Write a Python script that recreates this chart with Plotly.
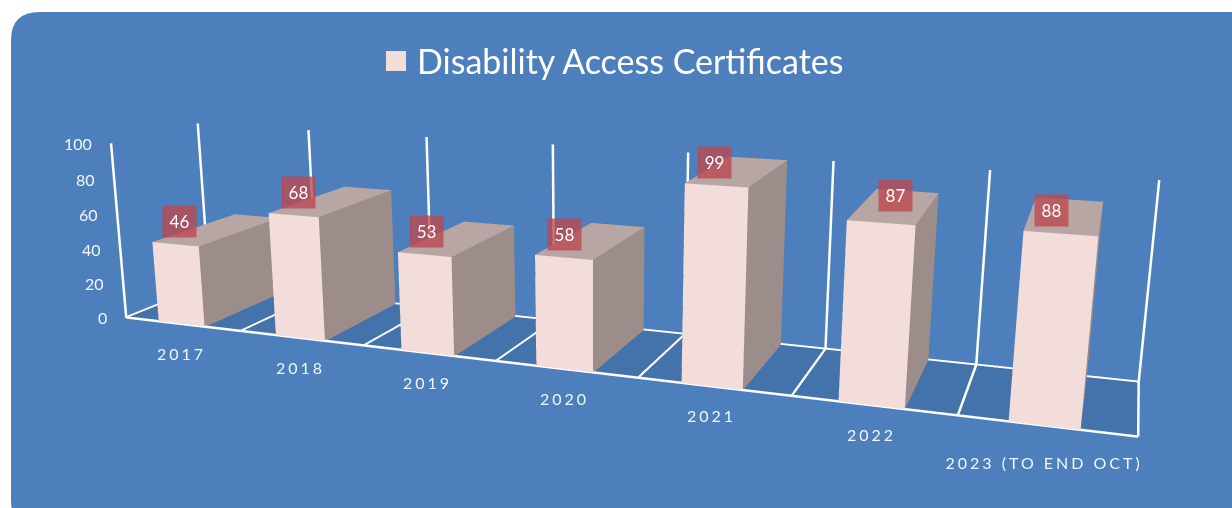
import plotly.graph_objects as go

categories = ["2017", "2018", "2019", "2020", "2021", "2022", "2023 (TO END OCT)"]
values = [46, 68, 53, 58, 99, 87, 88]
z_ticks = [0, 20, 40, 60, 80, 100]
series_name = "Disability Access Certificates"

# The 3-D lens is fixed at 45 degrees, so the canvas is larger than the window and shifted to frame the view.
W, H = 1306, 1175
OFF_X, OFF_Y = 74, 306
BAR_L, BAR_R = 0.29, 0.69
ZMAX = 100
FRONT, TOP, SIDE = "#F3DDDB", "#B7A6A4", "#9C8C8A"
PANEL, FLOOR = "#4D7FBC", "#4472AB"
LABEL_BG = "rgba(190,72,78,0.78)"
TXT = "#F2F5FA"
FONT = "Lato"

def px(x):
    return (x + OFF_X) / W
def py(y):
    return 1 - (y + OFF_Y) / H

def bar_mesh():
    xs, ys, zs, ii, jj, kk, colors = [], [], [], [], [], [], []
    for c, v in enumerate(values):
        n = len(xs)
        x0, x1 = c + BAR_L, c + BAR_R
        for z in (0, v):
            for y in (0, 1):
                for x in (x0, x1):
                    xs.append(x); ys.append(y); zs.append(z)
        quads = [((0, 1, 5, 4), FRONT), ((4, 5, 7, 6), TOP), ((1, 3, 7, 5), SIDE), ((0, 2, 6, 4), SIDE), ((2, 3, 7, 6), SIDE)]
        for (a, b, d, e), col in quads:
            ii += [n + a, n + a]; jj += [n + b, n + d]; kk += [n + d, n + e]
            colors += [col, col]
    return go.Mesh3d(x=xs, y=ys, z=zs, i=ii, j=jj, k=kk, facecolor=colors, flatshading=True,
                     lighting=dict(ambient=1, diffuse=0, specular=0, fresnel=0, roughness=1),
                     hoverinfo="skip", showscale=False, name=series_name)

n_cat = len(categories)
floor = go.Mesh3d(x=[0, n_cat, n_cat, 0], y=[0, 0, 1, 1], z=[0] * 4, i=[0, 0], j=[1, 2], k=[2, 3],
                  color=FLOOR, flatshading=True, hoverinfo="skip",
                  lighting=dict(ambient=1, diffuse=0, specular=0, fresnel=0, roughness=1))

GZ = 0.3
lx, ly, lz = [0, n_cat, None, 0, n_cat, None, 0, 0, None], [0, 0, None, 1, 1, None, 0, 0, None], [GZ, GZ, None, GZ, GZ, None, 0, ZMAX, None]
for c in range(n_cat + 1):
    lx += [c, c, None, c, c, None]
    ly += [0, 1, None, 1, 1, None]
    lz += [GZ, GZ, None, 0, ZMAX, None]
lines = go.Scatter3d(x=lx, y=ly, z=lz, mode="lines", line=dict(color="white", width=5), hoverinfo="skip")

annots = []
for t in z_ticks:
    annots.append(dict(x=0, y=0, z=t, text=str(t), showarrow=False, xanchor="right", xshift=-17,
                       font=dict(family=FONT, size=16, color=TXT)))
for c, name in enumerate(categories):
    annots.append(dict(x=c + 0.49, y=0, z=0, text=name, showarrow=False,
                       yshift=-36 if c == n_cat - 1 else -29,
                       font=dict(family=FONT, size=16, color=TXT)))
label_dx = [4, 5, 2, 1, -2, 15, -9]
label_dy = [23, 23, 23, 23, 23, 27, 23]
for c, v in enumerate(values):
    annots.append(dict(x=c + 0.49, y=0, z=v, text=str(v), showarrow=False, yshift=label_dy[c], xshift=label_dx[c],
                       bgcolor=LABEL_BG, width=31, height=29,
                       font=dict(family=FONT, size=17, color="white")))

eye = (1.863, -4.99, 1.289)
fw = (-0.348, 0.903, -0.253)
up = (-0.088, 0.237, 0.968)
center = tuple(e + 5.5 * f for e, f in zip(eye, fw))

def axis(lo, hi):
    return dict(visible=False, range=[lo, hi], autorange=False)

panel_path = (f"M {px(11)} {py(40)} Q {px(11)} {py(12)} {px(40)} {py(12)} L {px(1300)} {py(12)} "
              f"L {px(1300)} {py(530)} L {px(40)} {py(530)} Q {px(11)} {py(530)} {px(11)} {py(500)} Z")

fig = go.Figure([floor, bar_mesh(), lines])
fig.update_layout(
    width=W, height=H, margin=dict(l=0, r=0, t=0, b=0), showlegend=False,
    paper_bgcolor="white", hovermode=False,
    scene=dict(
        domain=dict(x=[0, 1], y=[0, 1]),
        xaxis=axis(0, n_cat), yaxis=axis(0, 1), zaxis=axis(0, ZMAX),
        aspectmode="manual", aspectratio=dict(x=4, y=0.591, z=0.745),
        camera=dict(eye=dict(x=eye[0], y=eye[1], z=eye[2]),
                    center=dict(x=center[0], y=center[1], z=center[2]),
                    up=dict(x=up[0], y=up[1], z=up[2]),
                    projection=dict(type="perspective")),
        annotations=annots, bgcolor="rgba(0,0,0,0)",
    ),
    shapes=[
        dict(type="path", path=panel_path, xref="paper", yref="paper", fillcolor=PANEL, line=dict(width=0), layer="below"),
        dict(type="rect", xref="paper", yref="paper", x0=px(386), x1=px(406), y0=py(71), y1=py(51),
             fillcolor="#F3DDDB", line=dict(width=0), layer="below"),
    ],
    annotations=[dict(xref="paper", yref="paper", x=px(415), y=py(60), text=series_name, showarrow=False,
                      xanchor="left", yanchor="middle", font=dict(family=FONT, size=34, color="white"))],
)

post = """
document.documentElement.style.overflow='hidden';
document.body.style.overflow='hidden';
document.body.style.margin='-%dpx 0 0 -%dpx';
var __cats = %s;
setInterval(function(){
  document.querySelectorAll('text.annotation-text').forEach(function(t){
    if (__cats.indexOf(t.textContent) >= 0) t.style.letterSpacing='3px';
  });
}, 100);
""" % (OFF_Y, OFF_X, str(categories))
fig.write_html("out.html", post_script=post, config=dict(displayModeBar=False))
